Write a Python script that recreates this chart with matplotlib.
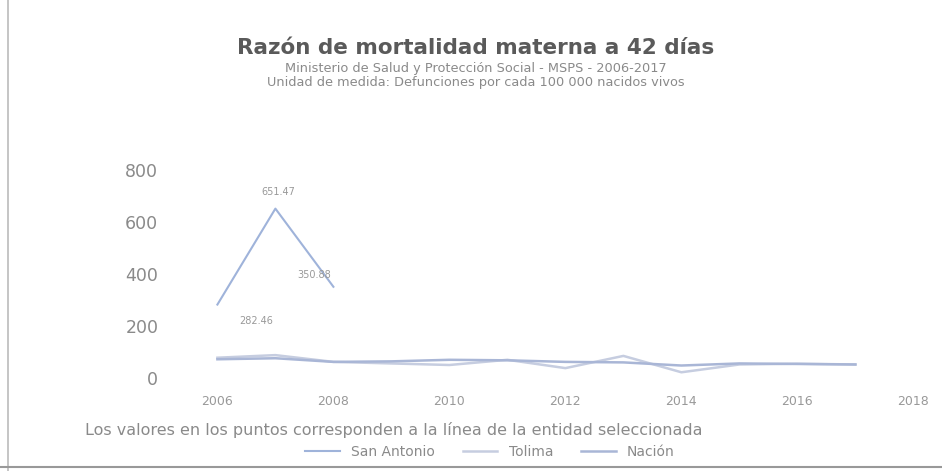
import numpy as np
import matplotlib.pyplot as plt

years = np.arange(2006, 2018)
sa_years = [2006, 2007, 2008]
san_antonio = [282.46, 651.47, 350.88]
tolima = [78, 88, 62, 56, 50, 70, 38, 85, 22, 52, 55, 52]
nacion = [72, 76, 62, 64, 70, 68, 62, 60, 48, 56, 54, 52]
sa_labels = ["282.46", "651.47", "350.88"]

grey = "#8a8a8a"
fig = plt.figure(figsize=(9.42, 4.71), dpi=100)
ax = fig.add_axes([200/942, 93/471, 725/942, 208/471])

ax.plot(years, tolima, color="#c6cde0", lw=1.8, label="Tolima")
ax.plot(years, nacion, color="#a9b6d6", lw=1.8, label="Nación")
ax.plot(sa_years, san_antonio, color="#9fb3da", lw=1.5, label="San Antonio")

offsets = [(28, -14), (2, 10), (-14, 6)]
for x, y, t, o in zip(sa_years, san_antonio, sa_labels, offsets):
    ax.annotate(t, (x, y), xytext=o, textcoords="offset points",
                ha="center", fontsize=7, color="#999999")

ax.set_xlim(2005.7, 2018.2)
ax.set_ylim(0, 800)
ax.set_xticks(range(2006, 2019, 2))
ax.set_yticks(range(0, 801, 200))
ax.tick_params(axis="y", length=0, pad=30, labelsize=12.5, labelcolor=grey)
ax.tick_params(axis="x", length=0, pad=12, labelsize=9, labelcolor="#999999")
for s in ax.spines.values():
    s.set_visible(False)

fig.text(0.505, 0.885, "Razón de mortalidad materna a 42 días", ha="center",
         fontsize=15.5, fontweight="bold", color="#5a5a5a")
fig.text(0.505, 0.848, "Ministerio de Salud y Protección Social - MSPS - 2006-2017",
         ha="center", fontsize=9.3, color="#8a8a8a")
fig.text(0.505, 0.818, "Unidad de medida: Defunciones por cada 100 000 nacidos vivos",
         ha="center", fontsize=9.3, color="#8a8a8a")
fig.text(85/942, 1 - 430/471, "Los valores en los puntos corresponden a la línea de la entidad seleccionada",
         ha="left", va="center", fontsize=11.5, color="#8a8a8a")

handles, labels = ax.get_legend_handles_labels()
order = [2, 0, 1]
fig.legend([handles[i] for i in order], [labels[i] for i in order],
           loc="center", bbox_to_anchor=(0.52, 1 - 452/471), ncol=3, frameon=False,
           fontsize=10, labelcolor="#8a8a8a", handlelength=2.5, columnspacing=2.0)

fig.add_artist(plt.Line2D([8/942, 8/942], [0, 1], color="#bbbbbb", lw=1.2))
fig.add_artist(plt.Line2D([0, 1], [4/471, 4/471], color="#999999", lw=1.5))

fig.savefig("out.png", dpi=100)
